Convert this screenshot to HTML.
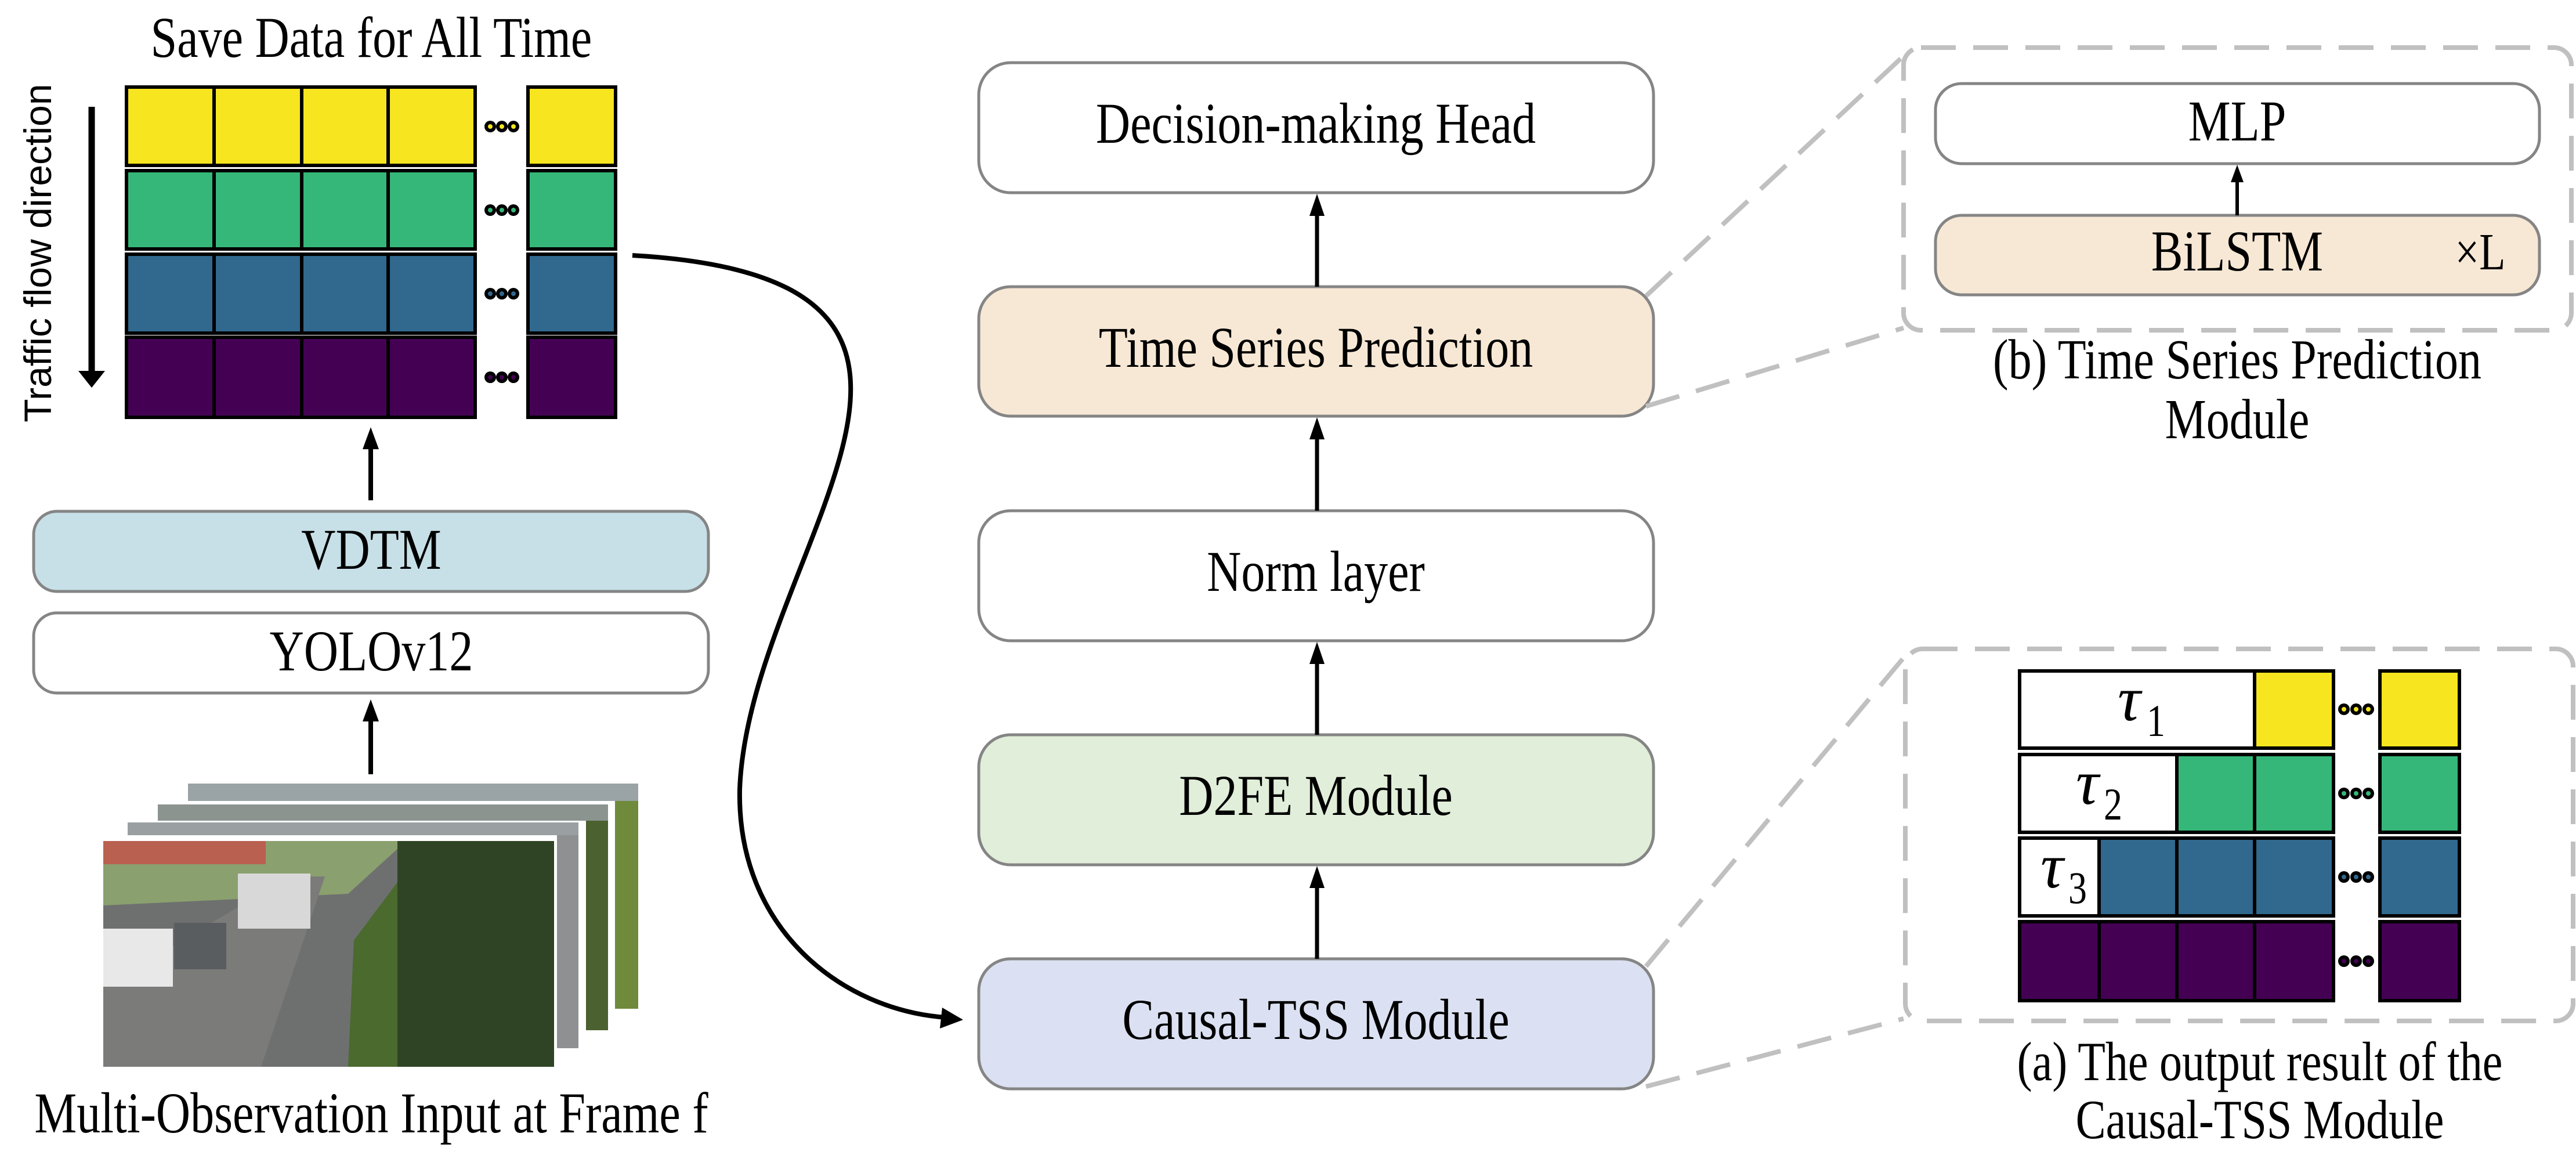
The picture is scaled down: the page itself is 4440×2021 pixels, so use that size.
<!DOCTYPE html>
<html><head><meta charset="utf-8"><style>
html,body{margin:0;padding:0;background:#fff;}
svg{display:block;}
text{font-family:"Liberation Serif","Times New Roman",serif;fill:#000;}
</style></head><body>
<svg width="4440" height="2021" viewBox="0 0 4440 2021" xmlns="http://www.w3.org/2000/svg">
<!-- Title -->
<text transform="translate(640,98) scale(1,1.22)" font-size="82" text-anchor="middle">Save Data for All Time</text>
<!-- Traffic flow direction -->
<text transform="translate(88,436) rotate(-90)" font-size="66" text-anchor="middle" style="font-family:'Liberation Sans',Arial,sans-serif">Traffic flow direction</text>
<line x1="158" y1="184" x2="158" y2="642" stroke="#000" stroke-width="11"/>
<polygon points="158,668 135,639 181,639" fill="#000"/>

<!-- Left grid -->
<g stroke="#000" stroke-width="6">
<g fill="#f6e51f">
<rect x="218" y="150" width="151" height="135"/><rect x="369" y="150" width="151" height="135"/><rect x="520" y="150" width="149" height="135"/><rect x="669" y="150" width="150" height="135"/><rect x="910" y="150" width="151" height="135"/>
</g>
<g fill="#35b779">
<rect x="218" y="294" width="151" height="135"/><rect x="369" y="294" width="151" height="135"/><rect x="520" y="294" width="149" height="135"/><rect x="669" y="294" width="150" height="135"/><rect x="910" y="294" width="151" height="135"/>
</g>
<g fill="#31688e">
<rect x="218" y="438" width="151" height="136"/><rect x="369" y="438" width="151" height="136"/><rect x="520" y="438" width="149" height="136"/><rect x="669" y="438" width="150" height="136"/><rect x="910" y="438" width="151" height="136"/>
</g>
<g fill="#440154">
<rect x="218" y="581" width="151" height="138"/><rect x="369" y="581" width="151" height="138"/><rect x="520" y="581" width="149" height="138"/><rect x="669" y="581" width="150" height="138"/><rect x="910" y="581" width="151" height="138"/>
</g>
</g>
<g>
<g fill="#000"><circle cx="845" cy="218" r="10"/><circle cx="865" cy="218" r="10"/><circle cx="885" cy="218" r="10"/>
<circle cx="845" cy="362" r="10"/><circle cx="865" cy="362" r="10"/><circle cx="885" cy="362" r="10"/>
<circle cx="845" cy="506" r="10"/><circle cx="865" cy="506" r="10"/><circle cx="885" cy="506" r="10"/>
<circle cx="845" cy="650" r="10"/><circle cx="865" cy="650" r="10"/><circle cx="885" cy="650" r="10"/></g>
<g fill="#f6e51f"><circle cx="845" cy="218" r="4"/><circle cx="865" cy="218" r="4"/><circle cx="885" cy="218" r="4"/></g>
<g fill="#35b779"><circle cx="845" cy="362" r="4"/><circle cx="865" cy="362" r="4"/><circle cx="885" cy="362" r="4"/></g>
<g fill="#31688e"><circle cx="845" cy="506" r="4"/><circle cx="865" cy="506" r="4"/><circle cx="885" cy="506" r="4"/></g>
<g fill="#440154"><circle cx="845" cy="650" r="4"/><circle cx="865" cy="650" r="4"/><circle cx="885" cy="650" r="4"/></g>
</g>

<!-- arrow to grid -->
<line x1="639" y1="862" x2="639" y2="770" stroke="#000" stroke-width="8"/>
<polygon points="639,736 625,774 653,774" fill="#000"/>

<!-- VDTM / YOLO -->
<rect x="58" y="881" width="1163" height="138" rx="40" fill="#c7e0e8" stroke="#858585" stroke-width="5"/>
<text transform="translate(640,980) scale(1,1.22)" font-size="82" text-anchor="middle">VDTM</text>
<rect x="58" y="1056" width="1163" height="138" rx="40" fill="#fff" stroke="#858585" stroke-width="5"/>
<text transform="translate(640,1155) scale(1,1.22)" font-size="82" text-anchor="middle">YOLOv12</text>

<line x1="639" y1="1334" x2="639" y2="1240" stroke="#000" stroke-width="8"/>
<polygon points="639,1205 625,1243 653,1243" fill="#000"/>

<!-- photo stack -->
<g>
<rect x="324" y="1350" width="776" height="388" fill="#fff"/>
<rect x="324" y="1350" width="776" height="30" fill="#9aa3a5"/>
<rect x="1060" y="1380" width="40" height="358" fill="#6f8a3a"/>
<rect x="272" y="1386" width="776" height="389" fill="#fff"/>
<rect x="272" y="1386" width="776" height="28" fill="#8c9490"/>
<rect x="1010" y="1414" width="38" height="361" fill="#4b6130"/>
<rect x="220" y="1417" width="777" height="389" fill="#fff"/>
<rect x="220" y="1417" width="777" height="22" fill="#9aa0a2"/>
<rect x="960" y="1439" width="37" height="367" fill="#8e9092"/>
<rect x="178" y="1449" width="777" height="389" fill="#6e706f"/>
<polygon points="178,1449 700,1449 600,1540 178,1560" fill="#8aa06e"/>
<rect x="178" y="1449" width="280" height="40" fill="#b96050"/>
<polygon points="178,1700 500,1510 560,1510 450,1838 178,1838" fill="#7b7c7a"/>
<rect x="685" y="1449" width="270" height="389" fill="#2f4424"/>
<polygon points="610,1620 685,1520 685,1838 600,1838" fill="#4a6a2e"/>
<rect x="178" y="1600" width="120" height="100" fill="#e8e8e8"/>
<rect x="300" y="1590" width="90" height="80" fill="#5a5d60"/>
<rect x="410" y="1505" width="125" height="95" fill="#d8d8d8"/>
</g>
<text transform="translate(640,1951) scale(1,1.22)" font-size="82" text-anchor="middle">Multi-Observation Input at Frame f</text>

<!-- curve connector -->
<path d="M1090,440 C1800,480 1290,950 1275,1360 C1270,1600 1450,1740 1630,1753" fill="none" stroke="#000" stroke-width="8"/>
<polygon points="1660,1757 1624,1736 1620,1772" fill="#000"/>

<!-- middle column -->
<rect x="1687" y="108" width="1163" height="224" rx="55" fill="#fff" stroke="#858585" stroke-width="5"/>
<text transform="translate(2268,246) scale(1,1.22)" font-size="82" text-anchor="middle">Decision-making Head</text>
<rect x="1687" y="494" width="1163" height="223" rx="55" fill="#f7e8d5" stroke="#858585" stroke-width="5"/>
<text transform="translate(2268,632) scale(1,1.22)" font-size="82" text-anchor="middle">Time Series Prediction</text>
<rect x="1687" y="880" width="1163" height="224" rx="55" fill="#fff" stroke="#858585" stroke-width="5"/>
<text transform="translate(2268,1018) scale(1,1.22)" font-size="82" text-anchor="middle">Norm layer</text>
<rect x="1687" y="1266" width="1163" height="224" rx="55" fill="#e1eed9" stroke="#858585" stroke-width="5"/>
<text transform="translate(2268,1404) scale(1,1.22)" font-size="82" text-anchor="middle">D2FE Module</text>
<rect x="1687" y="1652" width="1163" height="224" rx="55" fill="#dbe1f2" stroke="#858585" stroke-width="5"/>
<text transform="translate(2268,1790) scale(1,1.22)" font-size="82" text-anchor="middle">Causal-TSS Module</text>

<g stroke="#000" stroke-width="7">
<line x1="2270" y1="494" x2="2270" y2="365"/>
<line x1="2270" y1="880" x2="2270" y2="750"/>
<line x1="2270" y1="1266" x2="2270" y2="1137"/>
<line x1="2270" y1="1652" x2="2270" y2="1523"/>
</g>
<g fill="#000">
<polygon points="2270,334 2257,372 2283,372"/>
<polygon points="2270,719 2257,757 2283,757"/>
<polygon points="2270,1106 2257,1144 2283,1144"/>
<polygon points="2270,1492 2257,1530 2283,1530"/>
</g>

<!-- dashed connectors -->
<g stroke="#c0c0c0" stroke-width="8" fill="none" stroke-dasharray="60 30">
<line x1="2837" y1="510" x2="3290" y2="88"/>
<line x1="2837" y1="700" x2="3281" y2="565"/>
<line x1="2837" y1="1665" x2="3288" y2="1125"/>
<line x1="2837" y1="1872" x2="3281" y2="1755"/>
<rect x="3281" y="82" width="1151" height="487" rx="30"/>
<rect x="3284" y="1118" width="1151" height="641" rx="30"/>
</g>

<!-- (b) module -->
<rect x="3336" y="144" width="1041" height="138" rx="45" fill="#fff" stroke="#858585" stroke-width="5"/>
<text transform="translate(3856,242) scale(1,1.22)" font-size="82" text-anchor="middle">MLP</text>
<rect x="3336" y="371" width="1041" height="137" rx="45" fill="#f7e8d5" stroke="#858585" stroke-width="5"/>
<text transform="translate(3856,466) scale(1,1.22)" font-size="82" text-anchor="middle">BiLSTM</text>
<text transform="translate(4275,464) scale(1,1.22)" font-size="74" text-anchor="middle">×L</text>
<line x1="3856" y1="371" x2="3856" y2="310" stroke="#000" stroke-width="6"/>
<polygon points="3856,284 3845,314 3867,314" fill="#000"/>
<text transform="translate(3856,652) scale(1,1.22)" font-size="80" text-anchor="middle">(b) Time Series Prediction</text>
<text transform="translate(3856,755) scale(1,1.22)" font-size="80" text-anchor="middle">Module</text>

<!-- (a) grid -->
<g stroke="#000" stroke-width="6">
<rect x="3481" y="1156" width="405" height="133" fill="#fff"/>
<rect x="3886" y="1156" width="136" height="133" fill="#f6e51f"/>
<rect x="4102" y="1156" width="137" height="133" fill="#f6e51f"/>
<rect x="3481" y="1300" width="271" height="134" fill="#fff"/>
<rect x="3752" y="1300" width="134" height="134" fill="#35b779"/>
<rect x="3886" y="1300" width="136" height="134" fill="#35b779"/>
<rect x="4102" y="1300" width="137" height="134" fill="#35b779"/>
<rect x="3481" y="1444" width="137" height="134" fill="#fff"/>
<rect x="3618" y="1444" width="134" height="134" fill="#31688e"/>
<rect x="3752" y="1444" width="134" height="134" fill="#31688e"/>
<rect x="3886" y="1444" width="136" height="134" fill="#31688e"/>
<rect x="4102" y="1444" width="137" height="134" fill="#31688e"/>
<rect x="3481" y="1588" width="137" height="136" fill="#440154"/>
<rect x="3618" y="1588" width="134" height="136" fill="#440154"/>
<rect x="3752" y="1588" width="134" height="136" fill="#440154"/>
<rect x="3886" y="1588" width="136" height="136" fill="#440154"/>
<rect x="4102" y="1588" width="137" height="136" fill="#440154"/>
</g>
<g fill="#000"><circle cx="4040" cy="1222" r="10"/><circle cx="4061" cy="1222" r="10"/><circle cx="4082" cy="1222" r="10"/>
<circle cx="4040" cy="1367" r="10"/><circle cx="4061" cy="1367" r="10"/><circle cx="4082" cy="1367" r="10"/>
<circle cx="4040" cy="1511" r="10"/><circle cx="4061" cy="1511" r="10"/><circle cx="4082" cy="1511" r="10"/>
<circle cx="4040" cy="1656" r="10"/><circle cx="4061" cy="1656" r="10"/><circle cx="4082" cy="1656" r="10"/></g>
<g fill="#f6e51f"><circle cx="4040" cy="1222" r="4"/><circle cx="4061" cy="1222" r="4"/><circle cx="4082" cy="1222" r="4"/></g>
<g fill="#35b779"><circle cx="4040" cy="1367" r="4"/><circle cx="4061" cy="1367" r="4"/><circle cx="4082" cy="1367" r="4"/></g>
<g fill="#31688e"><circle cx="4040" cy="1511" r="4"/><circle cx="4061" cy="1511" r="4"/><circle cx="4082" cy="1511" r="4"/></g>
<g fill="#440154"><circle cx="4040" cy="1656" r="4"/><circle cx="4061" cy="1656" r="4"/><circle cx="4082" cy="1656" r="4"/></g>

<text x="3650" y="1241" font-size="110" font-style="italic">τ</text>
<text transform="translate(3700,1268) scale(1,1.22)" font-size="64">1</text>
<text x="3578" y="1385" font-size="110" font-style="italic">τ</text>
<text transform="translate(3626,1412) scale(1,1.22)" font-size="64">2</text>
<text x="3517" y="1529" font-size="110" font-style="italic">τ</text>
<text transform="translate(3565,1556) scale(1,1.22)" font-size="64">3</text>

<text transform="translate(3895,1861) scale(1,1.22)" font-size="78" text-anchor="middle">(a) The output result of the</text>
<text transform="translate(3895,1961) scale(1,1.22)" font-size="78" text-anchor="middle">Causal-TSS Module</text>
</svg>
</body></html>
